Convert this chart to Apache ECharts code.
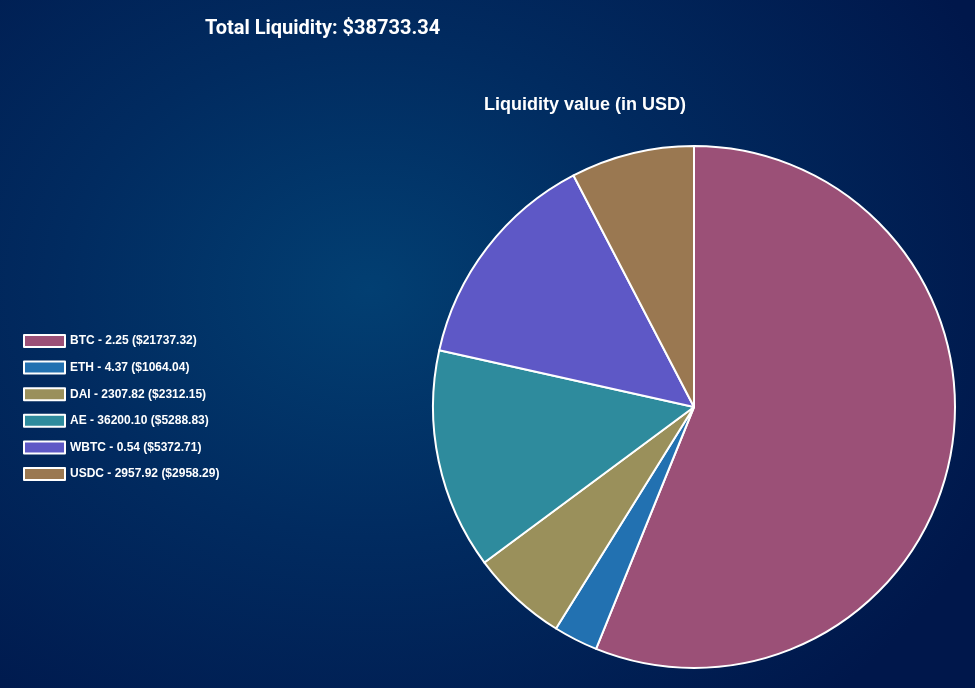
<!DOCTYPE html>
<html>
<head>
<meta charset="utf-8">
<title>Liquidity</title>
<script src="https://cdn.jsdelivr.net/npm/echarts@6/dist/echarts.min.js"></script>
<style>
  html, body {
    margin: 0;
    padding: 0;
    width: 975px;
    height: 688px;
    overflow: hidden;
  }
  body {
    background: radial-gradient(ellipse 70% 80% at 38% 42%, #023f72 0%, #012b60 45%, #00174b 100%);
  }
  #chart {
    width: 975px;
    height: 688px;
  }
</style>
</head>
<body>
<div id="chart"></div>
<script>
// tokens and their amounts / usd values
const tokens = ['BTC', 'ETH', 'DAI', 'AE', 'WBTC', 'USDC']
const amounts = ['2.25', '4.37', '2307.82', '36200.10', '0.54', '2957.92']
const usdValues = [21737.32, 1064.04, 2312.15, 5288.83, 5372.71, 2958.29]
const colors = ['#9b5077', '#2271b1', '#9a905b', '#2e8b9d', '#5e58c6', '#9a7851']
const totalLiquidity = '38733.34'

const labels = tokens.map((t, i) => t + ' - ' + amounts[i] + ' ($' + usdValues[i].toFixed(2) + ')')

const chart = echarts.init(document.getElementById('chart'))

const option = {
  backgroundColor: 'transparent',
  animation: false,
  color: colors,
  title: [
    {
      text: 'Total Liquidity: $' + totalLiquidity,
      left: 200,
      top: 14,
      textStyle: {
        color: '#fff',
        fontFamily: 'Roboto',
        fontWeight: 'bold',
        fontSize: 20
      }
    },
    {
      text: 'Liquidity value (in USD)',
      left: 580,
      textAlign: 'center',
      top: 91,
      textStyle: {
        color: '#fff',
        fontFamily: 'Liberation Sans, Arial',
        fontWeight: 'bold',
        fontSize: 18
      }
    }
  ],
  legend: {
    orient: 'vertical',
    left: 18,
    top: 329,
    itemWidth: 41,
    itemHeight: 12,
    itemGap: 12.6,
    icon: 'rect',
    itemStyle: {
      borderColor: '#fff',
      borderWidth: 2
    },
    textStyle: {
      color: '#fff',
      fontFamily: 'Liberation Sans, Arial',
      fontWeight: 'bold',
      fontSize: 12
    },
    data: labels
  },
  series: [
    {
      type: 'pie',
      center: [694, 407],
      radius: [0, 261],
      startAngle: 90,
      clockwise: true,
      label: { show: false },
      labelLine: { show: false },
      emphasis: { scale: false },
      itemStyle: {
        borderColor: '#fff',
        borderWidth: 2
      },
      data: labels.map((name, i) => ({ name: name, value: usdValues[i] }))
    }
  ]
}

chart.setOption(option)
</script>
</body>
</html>
